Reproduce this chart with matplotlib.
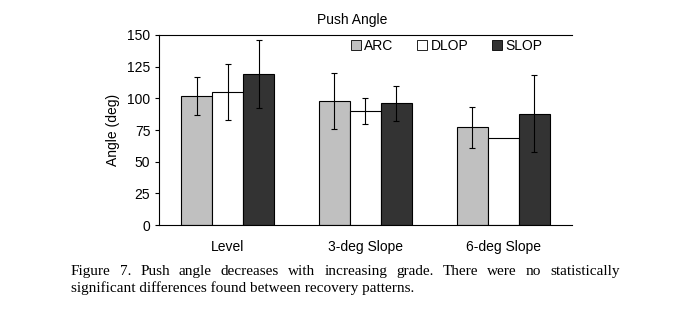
import numpy as np
import matplotlib.pyplot as plt
from matplotlib.patches import Patch

grupos = ['Level', '3-deg Slope', '6-deg Slope']
series = ['ARC', 'DLOP', 'SLOP']
cores = ['#c0c0c0', '#ffffff', '#333333']

arc = [102, 98, 77]
dlop = [105, 90, 69]
slop = [119, 96, 88]
arc_err = [15, 22, 16]
dlop_err = [22, 10, 0]
slop_err = [27, 14, 30]

valores = [arc, dlop, slop]
erros = [arc_err, dlop_err, slop_err]

linha1 = 'Figure 7. Push angle decreases with increasing grade. There were no statistically'
linha2 = 'significant differences found between recovery patterns.'

plt.rcParams['font.family'] = ['Liberation Sans', 'DejaVu Sans']
serif = ['Liberation Serif', 'DejaVu Serif']

W, H = 690, 323
fig = plt.figure(figsize=(6.9, 3.23), dpi=100)
ax = fig.add_axes([0.230, 0.303, 0.599, 0.589])

x = np.arange(len(grupos))
larg = 0.225
for i, (nome, cor) in enumerate(zip(series, cores)):
    pos = x + (i - 1) * larg
    ax.bar(pos, valores[i], width=larg, color=cor, edgecolor='black', linewidth=0.8)
    # barras de erro so onde existem
    for p, v, e in zip(pos, valores[i], erros[i]):
        if e > 0:
            ax.errorbar(p, v, yerr=e, fmt='none', ecolor='black',
                        elinewidth=0.8, capsize=2.5, capthick=0.8)

ax.set_xlim(-0.5, 2.5)
ax.set_ylim(0, 150)
ax.set_yticks(range(0, 151, 25))
ax.set_xticks(x)
ax.set_xticklabels(grupos, fontsize=10)
ax.tick_params(axis='x', length=0, pad=11)
ax.tick_params(axis='y', labelsize=10, length=3, width=0.8, pad=3)
ax.set_ylabel('Angle (deg)', fontsize=10, labelpad=5)
fig.text(352 / W, 1 - 20 / H, 'Push Angle', fontsize=10, ha='center', va='center')

ax.spines['right'].set_visible(False)
for s in ['left', 'bottom', 'top']:
    ax.spines[s].set_linewidth(0.8)

handles = [Patch(facecolor=c, edgecolor='black', linewidth=0.6) for c in cores]
ax.legend(handles, series, loc='center right', ncol=3, frameon=False, fontsize=10,
          handlelength=0.7, handleheight=0.7, handletextpad=0.25, columnspacing=1.7,
          borderpad=0, bbox_to_anchor=(549 / W, 1 - 46 / H),
          bbox_transform=fig.transFigure)

# legenda da figura: primeira linha justificada
x0, x1 = 71, 620
y1, y2 = 275, 292  # linhas de base
tam = 11
renderer = fig.canvas.get_renderer()
palavras = linha1.split()
textos = [fig.text(0, 0, p, fontsize=tam, family=serif, va='baseline') for p in palavras]
larguras = [t.get_window_extent(renderer).width for t in textos]
espaco = (x1 - x0 - sum(larguras)) / (len(palavras) - 1)
xp = x0
for t, w in zip(textos, larguras):
    t.set_position((xp / W, 1 - y1 / H))
    xp += w + espaco
fig.text(x0 / W, 1 - y2 / H, linha2, fontsize=tam, family=serif, va='baseline', ha='left')

fig.savefig('out.png', dpi=100)
